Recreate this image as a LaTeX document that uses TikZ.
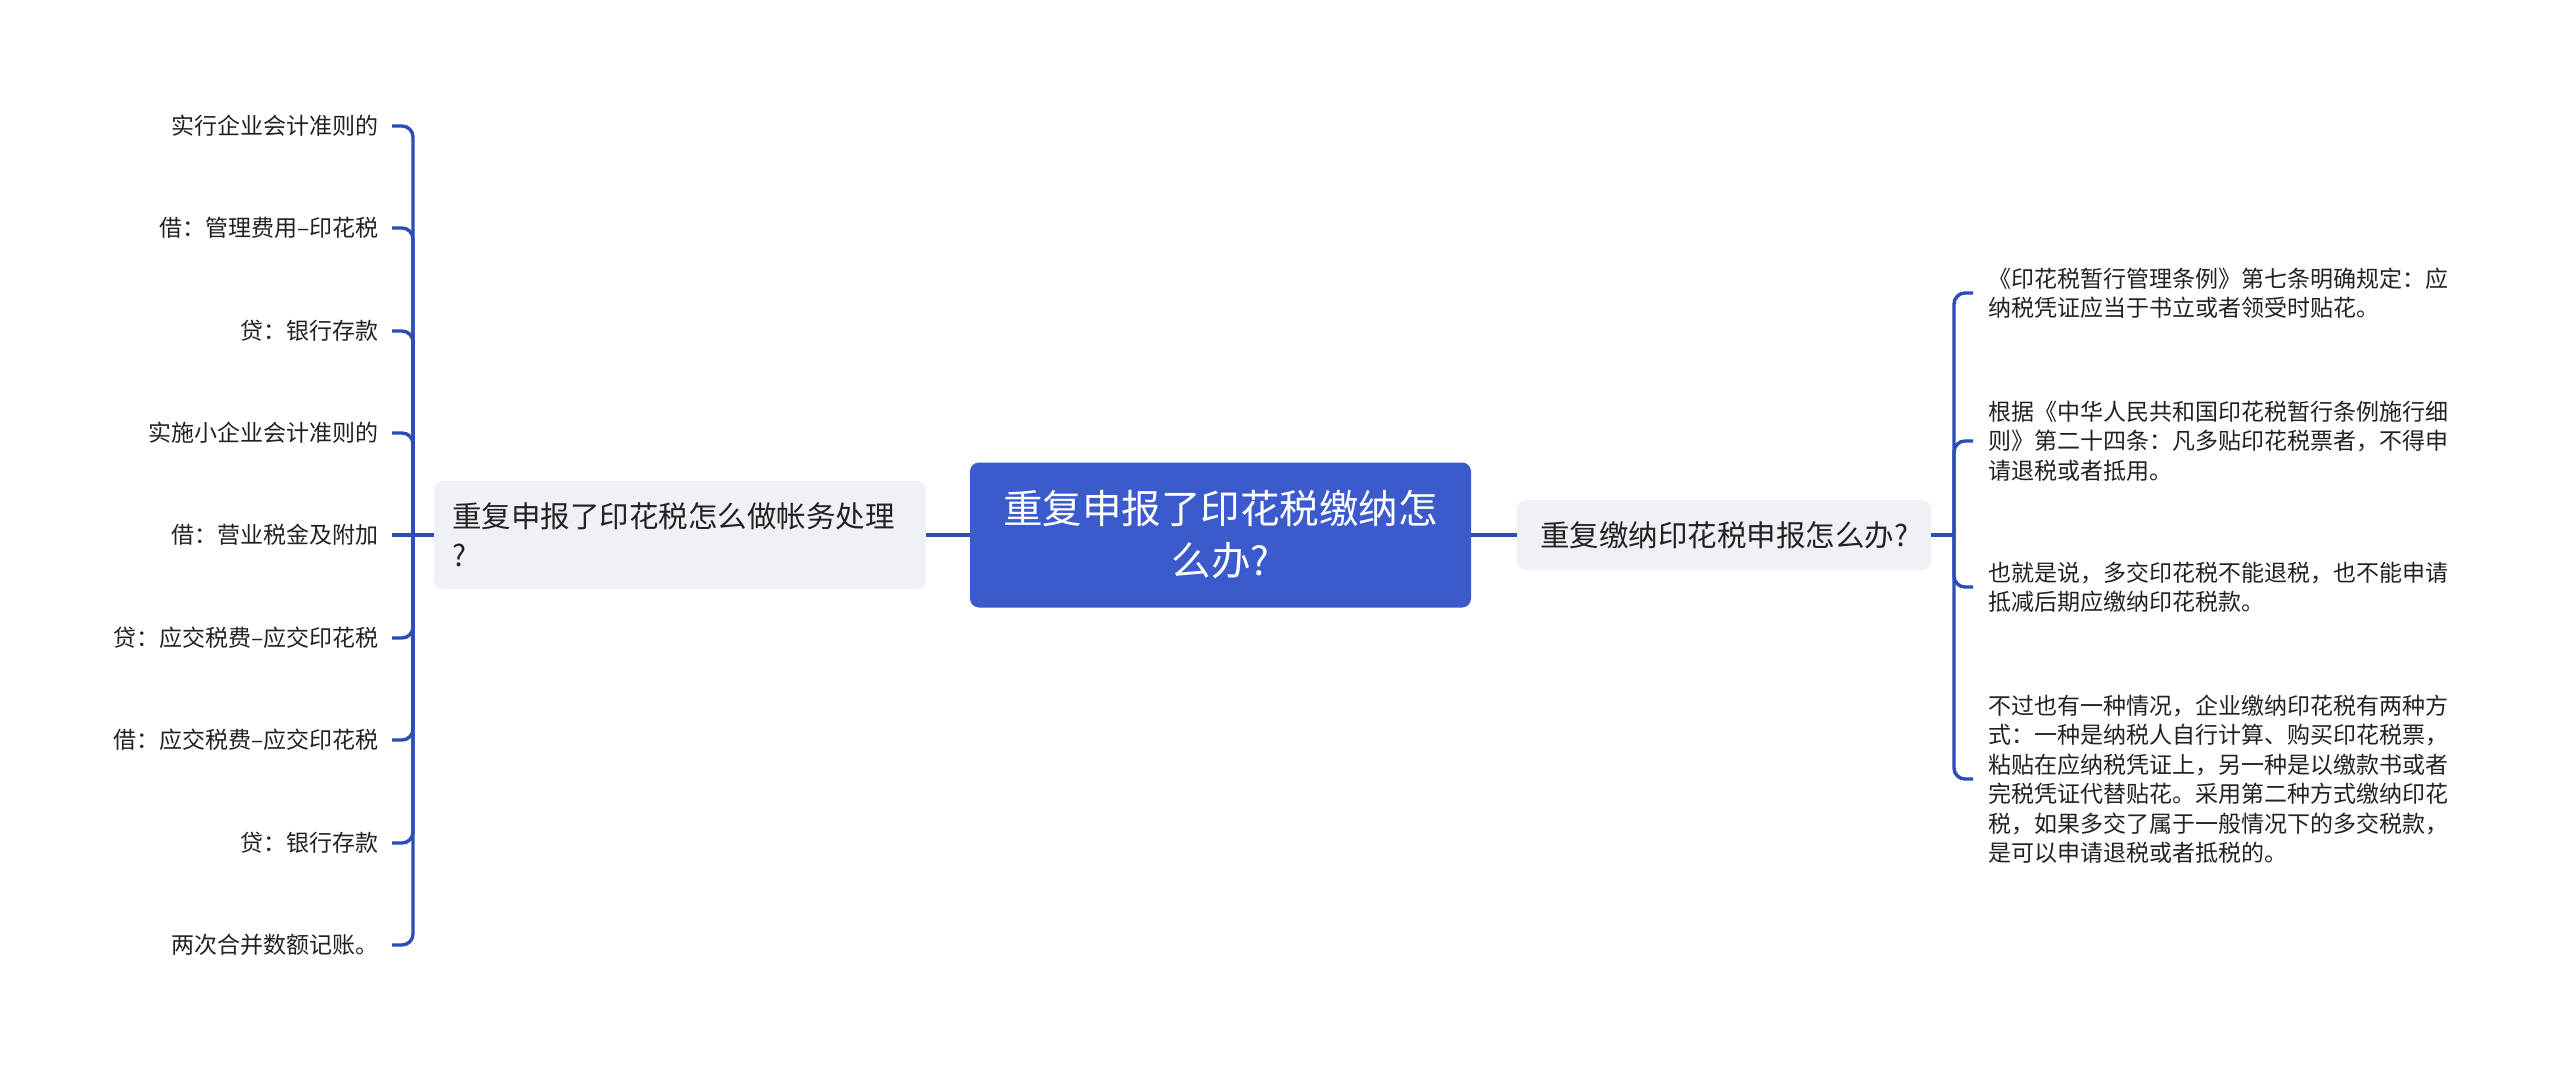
\documentclass[tikz,border=0pt]{standalone}
\usepackage{fontspec}
\setmainfont{Noto Sans CJK SC}
\usetikzlibrary{calc}
\definecolor{conn}{RGB}{44,76,182}
\definecolor{rootfill}{RGB}{59,91,204}
\definecolor{subfill}{RGB}{238,241,245}
\definecolor{txt}{RGB}{34,34,34}
\begin{document}
\begin{tikzpicture}[x=1pt,y=-1pt,
  connline/.style={draw=conn, line width=3.4pt, rounded corners=11pt},
  rootbox/.style={fill=rootfill, rounded corners=9pt, text=white, align=center,
    minimum width=501pt, minimum height=145pt, inner sep=0pt,
    font=\fontsize{39.5}{52}\selectfont},
  subbox/.style={fill=subfill, rounded corners=9pt, text=txt, inner sep=0pt,
    font=\fontsize{29.5}{39}\selectfont},
  leafl/.style={anchor=east, inner sep=0pt, text=txt, font=\fontsize{23}{29}\selectfont},
  leafr/.style={anchor=west, inner sep=0pt, text=txt, align=left, font=\fontsize{23}{29.5}\selectfont},
]
\useasboundingbox[fill=white] (0,0) rectangle (2560,1071);

\node[rootbox] (root) at (1220.5,535) {重复申报了印花税缴纳怎\\么办?};
\node[subbox, minimum width=492pt, minimum height=108pt, text width=456pt, align=left] (L) at (680,535)
  {重复申报了印花税怎么做帐务处理\\?};
\node[subbox, minimum width=414pt, minimum height=70pt] (R) at (1724,535) {重复缴纳印花税申报怎么办?};

\node[leafl] (l1) at (379,126) {实行企业会计准则的};
\node[leafl] (l2) at (379,228) {借：管理费用–印花税};
\node[leafl] (l3) at (379,331) {贷：银行存款};
\node[leafl] (l4) at (379,433) {实施小企业会计准则的};
\node[leafl] (l5) at (379,535) {借：营业税金及附加};
\node[leafl] (l6) at (379,638) {贷：应交税费–应交印花税};
\node[leafl] (l7) at (379,740) {借：应交税费–应交印花税};
\node[leafl] (l8) at (379,843) {贷：银行存款};
\node[leafl] (l9) at (379,945) {两次合并数额记账。};

\node[leafr] (r1) at (1988,293) {《印花税暂行管理条例》第七条明确规定：应\\纳税凭证应当于书立或者领受时贴花。};
\node[leafr] (r2) at (1988,441) {根据《中华人民共和国印花税暂行条例施行细\\则》第二十四条：凡多贴印花税票者，不得申\\请退税或者抵用。};
\node[leafr] (r3) at (1988,587) {也就是说，多交印花税不能退税，也不能申请\\抵减后期应缴纳印花税款。};
\node[leafr] (r4) at (1988,779) {不过也有一种情况，企业缴纳印花税有两种方\\式：一种是纳税人自行计算、购买印花税票，\\粘贴在应纳税凭证上，另一种是以缴款书或者\\完税凭证代替贴花。采用第二种方式缴纳印花\\税，如果多交了属于一般情况下的多交税款，\\是可以申请退税或者抵税的。};

\coordinate (lj) at (413,535);
\coordinate (rj) at (1954,535);

\draw[connline] (root.west) -- (L.east);
\draw[connline] (root.east) -- (R.west);
\draw[connline] (L.west) -- (lj);
\draw[connline] (R.east) -- (rj);
\foreach \i in {1,2,3,4,6,7,8,9}
  \draw[connline] (lj) |- ([xshift=13pt]l\i.east);
\draw[connline] (lj) -- ([xshift=13pt]l5.east);
\foreach \i in {1,2,3,4}
  \draw[connline] (rj) |- ([xshift=-15pt]r\i.west);
\end{tikzpicture}
\end{document}
